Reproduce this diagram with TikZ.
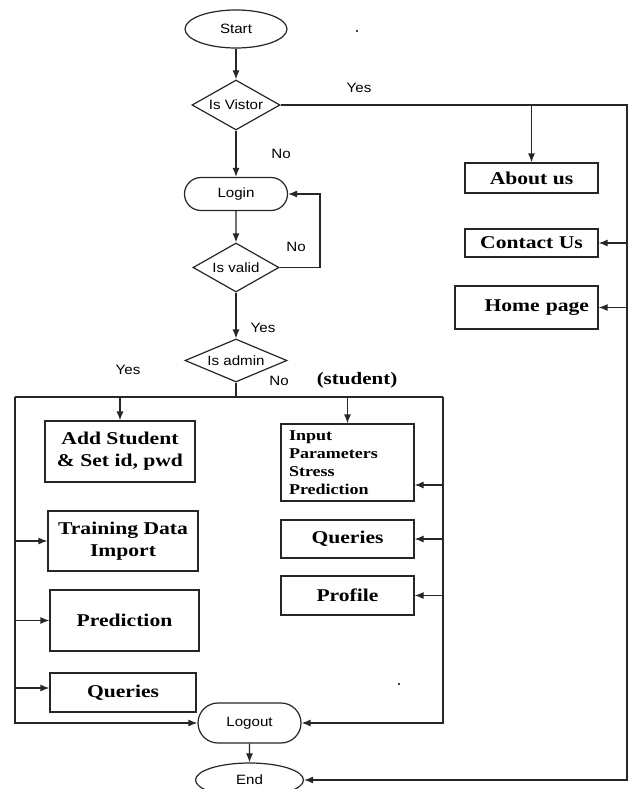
\documentclass[tikz,border=0pt]{standalone}
\usepackage{fontspec}
\newfontfamily\sansf[FakeStretch=1.12]{Liberation Sans}
\newfontfamily\serf[FakeStretch=1.2]{Liberation Serif}
\usetikzlibrary{shapes.geometric,shapes.misc,arrows.meta}
\tikzset{
  base/.style={draw=black!85, line width=1.2pt, inner sep=0pt},
  sfont/.style={font=\sansf\fontsize{13.5}{16}\selectfont},
  term/.style={base, ellipse, sfont},
  rterm/.style={base, rounded rectangle, sfont},
  dec/.style={base, diamond, sfont},
  box/.style={base, rectangle, align=center, font=\serf\bfseries\fontsize{18}{22}\selectfont},
  lbl/.style={sfont, inner sep=0pt},
  arr/.style={-{Latex[length=9pt,width=7pt]}, line width=1.2pt, draw=black!85},
  ln/.style={line width=1.2pt, draw=black!85}
}
\begin{document}
\begin{tikzpicture}[x=1pt,y=-1pt]
\useasboundingbox (0,0) rectangle (629,789);
\fill[white] (0,0) rectangle (629,789);

% main column
\node[term, minimum width=102pt, minimum height=38pt] (start) at (236,29) {Start};
\node[dec, minimum width=88pt, minimum height=50pt, shape aspect=1.76] (vis) at (236,105) {Is Vistor};
\node[rterm, minimum width=103pt, minimum height=33pt] (login) at (236,194) {Login};
\node[dec, minimum width=86pt, minimum height=49pt, shape aspect=1.76] (valid) at (236,267.5) {Is valid};
\node[dec, minimum width=102pt, minimum height=43pt, shape aspect=2.37] (admin) at (236,360.5) {Is admin};

% visitor pages
\node[box, minimum width=133pt, minimum height=30pt] (about) at (531.5,178) {About us};
\node[box, minimum width=133pt, minimum height=28pt] (contact) at (531.5,243) {Contact Us};
\node[box, text width=125pt, align=right, inner xsep=9pt, minimum height=43pt] (home) at (526.5,307.5) {Home page};

% admin pages
\node[box, minimum width=150pt, minimum height=61pt] (add) at (120,451.5) {Add Student\\\& Set id, pwd};
\node[box, minimum width=150pt, minimum height=60pt] (train) at (123,541) {Training Data\\Import};
\node[box, minimum width=149pt, minimum height=61pt] (pred) at (124.5,620.5) {Prediction};
\node[box, minimum width=146pt, minimum height=39pt] (ql) at (123,692.5) {Queries};

% student pages
\node[box, text width=117pt, align=left, inner xsep=8pt, minimum height=77pt,
      font=\serf\bfseries\fontsize{15}{18}\selectfont] (input) at (347.5,462.5) {Input\\Parameters\\Stress\\Prediction};
\node[box, minimum width=133pt, minimum height=38pt] (qr) at (347.5,539) {Queries};
\node[box, minimum width=133pt, minimum height=39pt] (prof) at (347.5,595.5) {Profile};

% end
\node[rterm, minimum width=103pt, minimum height=40pt] (logout) at (249.5,723) {Logout};
\node[term, minimum width=108pt, minimum height=34pt] (end) at (249.5,780) {End};

% labels
\node[lbl] (yes1) at (359,88) {Yes};
\node[lbl] (no1) at (281,154) {No};
\node[lbl] (no2) at (296,247) {No};
\node[lbl] (yes2) at (263,328) {Yes};
\node[lbl] (yes3) at (128,370) {Yes};
\node[lbl] (no3) at (279,381) {No};
\node[inner sep=0pt, font=\serf\bfseries\fontsize{17.5}{20}\selectfont] (student) at (357,380) {(student)};

% coordinates
\coordinate (r1) at (627,105);
\coordinate (l1) at (15,397);
\coordinate (r2) at (443,397);
\coordinate (lp) at (320,267.5);
\coordinate (ia) at (443,485);

% connectors: top
\draw[arr] (start) -- (vis);
\draw[arr] (vis) -- (login);
\draw[arr] (login) -- (valid);
\draw[arr] (valid) -- (admin);
\draw[arr] (valid.east) -- (lp) -- (lp |- login.east) -- (login.east);

% visitor branch
\draw[arr] (vis.east) -- (r1) -- (r1 |- end.east) -- (end.east);
\draw[arr] (about.north |- r1) -- (about.north);
\draw[arr] (r1 |- contact.east) -- (contact.east);
\draw[arr] (r1 |- home.east) -- (home.east);

% admin / student split
\draw[ln] (admin.south) -- (admin.south |- l1);
\draw[ln] (l1) -- (r2);
\draw[arr] (add.north |- l1) -- (add.north);
\draw[arr] (input.north |- l1) -- (input.north);

% admin side
\draw[arr] (l1) -- (l1 |- logout.west) -- (logout.west);
\draw[arr] (l1 |- train.west) -- (train.west);
\draw[arr] (l1 |- pred.west) -- (pred.west);
\draw[arr] (l1 |- 0,688) -- (ql.west |- 0,688);

% student side
\draw[arr] (r2) -- (r2 |- logout.east) -- (logout.east);
\draw[arr] (ia) -- (ia -| input.east);
\draw[arr] (r2 |- qr.east) -- (qr.east);
\draw[arr] (r2 |- prof.east) -- (prof.east);

% logout to end
\draw[arr] (logout) -- (end);

% stray dots
\fill (357,31) circle (1.2pt);
\fill (399,684) circle (1.2pt);
\end{tikzpicture}
\end{document}
